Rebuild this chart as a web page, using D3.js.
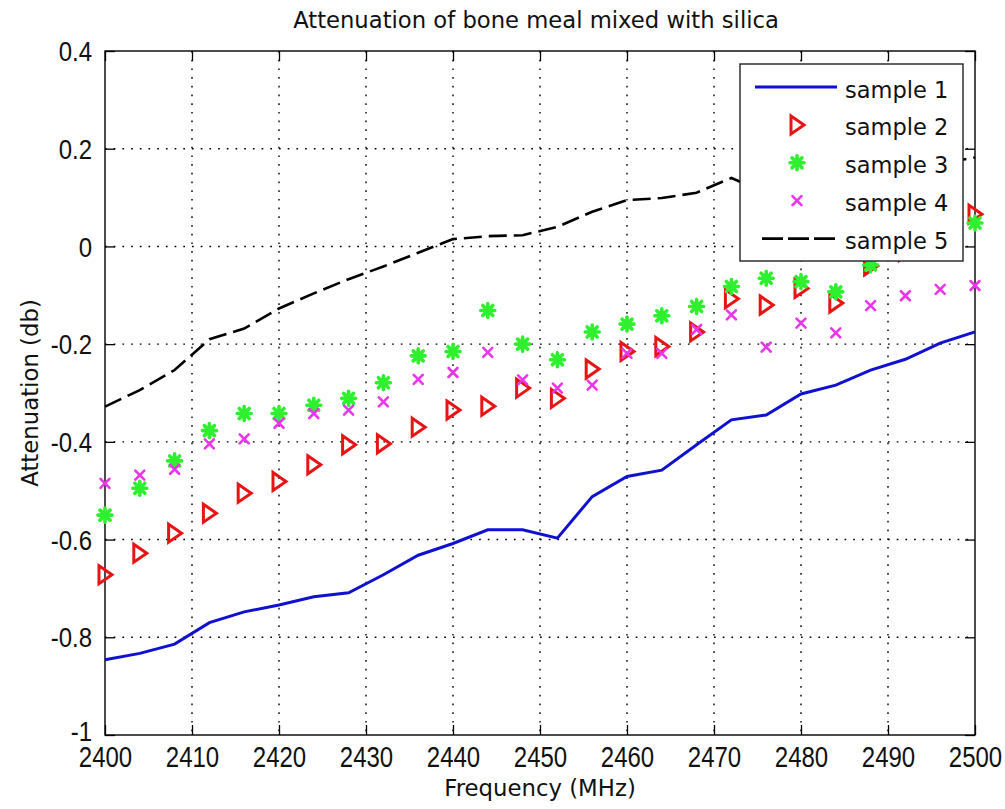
<!DOCTYPE html>
<html>
<head>
<meta charset="utf-8">
<script src="https://cdn.jsdelivr.net/npm/d3@7"></script>
<style>
  body { margin: 0; background: #fff; }
  svg { display: block; }
</style>
</head>
<body>
<svg></svg>
<script>
// frequencies (MHz), one reading every 4 MHz
var freq = [2400, 2404, 2408, 2412, 2416, 2420, 2424, 2428, 2432, 2436, 2440, 2444, 2448,
            2452, 2456, 2460, 2464, 2468, 2472, 2476, 2480, 2484, 2488, 2492, 2496, 2500];

// attenuation (db)
var sample1 = [-0.846, -0.833, -0.814, -0.770, -0.748, -0.734, -0.717, -0.709, -0.672, -0.632, -0.608, -0.580, -0.580,
               -0.597, -0.512, -0.471, -0.458, -0.406, -0.355, -0.345, -0.302, -0.284, -0.253, -0.231, -0.198, -0.175];
var sample2 = [-0.672, -0.628, -0.587, -0.546, -0.505, -0.481, -0.447, -0.406, -0.404, -0.370, -0.335, -0.327, -0.290,
               -0.311, -0.251, -0.215, -0.205, -0.175, -0.107, -0.120, -0.086, -0.116, -0.040, -0.010, 0.020, 0.066];
var sample3 = [-0.550, -0.495, -0.439, -0.377, -0.342, -0.342, -0.325, -0.311, -0.279, -0.224, -0.215, -0.131, -0.200,
               -0.232, -0.175, -0.159, -0.142, -0.123, -0.082, -0.065, -0.072, -0.093, -0.038, -0.010, 0.020, 0.048];
var sample4 = [-0.485, -0.468, -0.456, -0.404, -0.394, -0.362, -0.342, -0.335, -0.318, -0.272, -0.258, -0.217, -0.273,
               -0.290, -0.284, -0.219, -0.219, -0.170, -0.140, -0.206, -0.157, -0.177, -0.121, -0.101, -0.088, -0.080];
var sample5 = [-0.328, -0.294, -0.253, -0.190, -0.168, -0.127, -0.096, -0.067, -0.041, -0.013, 0.015, 0.021, 0.023,
               0.040, 0.071, 0.095, 0.099, 0.110, 0.140, 0.110, 0.125, 0.140, 0.150, 0.160, 0.170, 0.182];

var seriesNames = ["sample 1", "sample 2", "sample 3", "sample 4", "sample 5"];
var xTicks = [2400, 2410, 2420, 2430, 2440, 2450, 2460, 2470, 2480, 2490, 2500];
var yTicks = [0.4, 0.2, 0, -0.2, -0.4, -0.6, -0.8, -1];

var titleText = "Attenuation of bone meal mixed with silica";
var xLabel = "Frequency (MHz)";
var yLabel = "Attenuation (db)";

var W = 1005, H = 809;
var margin = {top: 51, right: 30, bottom: 74, left: 105},
    width = W - margin.left - margin.right,
    height = H - margin.top - margin.bottom;

var wordFont = "'DejaVu Sans', Verdana, sans-serif";
var digitFont = "'Liberation Sans', Arial, sans-serif";

var svg = d3.select("svg")
    .attr("width", W)
    .attr("height", H);

svg.append("rect").attr("width", W).attr("height", H).attr("fill", "#fff");

var g = svg.append("g")
    .attr("transform", "translate(" + margin.left + "," + margin.top + ")");

var xScale = d3.scaleLinear().domain([2400, 2500]).range([0, width]);
var yScale = d3.scaleLinear().domain([-1, 0.4]).range([height, 0]);

// dotted grid at the inner ticks
var gridColor = "#000";
g.append("g").selectAll("line")
  .data(xTicks.slice(1, -1))
  .enter().append("line")
    .attr("x1", function(d) { return xScale(d); })
    .attr("x2", function(d) { return xScale(d); })
    .attr("y1", 0).attr("y2", height)
    .attr("stroke", gridColor).attr("stroke-width", 1.4)
    .attr("stroke-dasharray", "1.7,7");
g.append("g").selectAll("line")
  .data(yTicks.slice(1, -1))
  .enter().append("line")
    .attr("y1", function(d) { return yScale(d); })
    .attr("y2", function(d) { return yScale(d); })
    .attr("x1", 0).attr("x2", width)
    .attr("stroke", gridColor).attr("stroke-width", 1.4)
    .attr("stroke-dasharray", "1.7,7");

var fmtY = function(d) { return String(+d.toFixed(1)); };

// axes, matlab style: inward ticks on all four sides
var xAxis_group = g.append("g")
    .attr("transform", "translate(0," + height + ")")
    .call(d3.axisBottom(xScale).tickValues(xTicks).tickSizeInner(-10).tickSizeOuter(0).tickFormat(d3.format("d")));
xAxis_group.selectAll("text")
    .attr("dy", null)
    .attr("y", 25.6)
    .attr("transform", "scale(1,1.25)");

var yAxis_group = g.append("g")
    .call(d3.axisLeft(yScale).tickValues(yTicks).tickSizeInner(-10).tickSizeOuter(0).tickFormat(fmtY));
yAxis_group.selectAll("text")
    .attr("dy", null)
    .attr("x", -13)
    .attr("y", function(d) { return d === -1 ? 5.2 : 8.6; })  // -1 sits just above the 2400 label
    .attr("transform", "scale(1,1.12)");

g.append("g").call(d3.axisTop(xScale).tickValues(xTicks).tickSizeInner(-10).tickSizeOuter(0).tickFormat(""));
g.append("g").attr("transform", "translate(" + width + ",0)")
    .call(d3.axisRight(yScale).tickValues(yTicks).tickSizeInner(-10).tickSizeOuter(0).tickFormat(""));

g.selectAll(".domain").remove();
g.selectAll(".tick line").attr("stroke", "#000").attr("stroke-width", 1.3);
g.selectAll(".tick text")
    .attr("fill", "#111")
    .style("font-family", digitFont)
    .style("font-size", "24px");

// plot box
g.append("rect")
    .attr("width", width).attr("height", height)
    .attr("fill", "none").attr("stroke", "#000").attr("stroke-width", 1.4);

// build row objects
function rows(vals) {
  return freq.map(function(f, i) { return {f: f, v: vals[i]}; });
}

var line = d3.line()
    .x(function(d) { return xScale(d.f); })
    .y(function(d) { return yScale(d.v); });

var blue = "#1010d0", red = "#e81414", green = "#2ef02e", magenta = "#ea35ea";

// marker shapes
function drawTriangle(sel) {
  sel.append("path").attr("d", "M-6,-9L7,0L-6,9Z")
    .attr("fill", "none").attr("stroke", red).attr("stroke-width", 3)
    .attr("stroke-linejoin", "miter");
}
function drawStar(sel) {
  sel.append("path").attr("d", "M-7,0L7,0M0,-7L0,7M-5,-5L5,5M-5,5L5,-5")
    .attr("stroke", green).attr("stroke-width", 3.6).attr("stroke-linecap", "round");
}
function drawCross(sel) {
  sel.append("path").attr("d", "M-4.5,-4.5L4.5,4.5M-4.5,4.5L4.5,-4.5")
    .attr("stroke", magenta).attr("stroke-width", 2.6).attr("stroke-linecap", "round");
}

function markers(vals, drawFn) {
  g.append("g").selectAll("g")
    .data(rows(vals))
    .enter().append("g")
      .attr("transform", function(d) { return "translate(" + xScale(d.f) + "," + yScale(d.v) + ")"; })
      .each(function() { drawFn(d3.select(this)); });
}

g.append("path").datum(rows(sample1))
    .attr("d", line)
    .attr("fill", "none").attr("stroke", blue).attr("stroke-width", 3);

markers(sample2, drawTriangle);
markers(sample3, drawStar);
markers(sample4, drawCross);

g.append("path").datum(rows(sample5))
    .attr("d", line)
    .attr("fill", "none").attr("stroke", "#000").attr("stroke-width", 2.6)
    .attr("stroke-dasharray", "18,7");

// legend
var legend = svg.append("g").attr("transform", "translate(740,64)");
legend.append("rect")
    .attr("width", 223).attr("height", 197)
    .attr("fill", "#fff").attr("stroke", "#222").attr("stroke-width", 1.4);

var rowY = function(i) { return 23 + i * 37.9; };
seriesNames.forEach(function(name, i) {
  var row = legend.append("g").attr("transform", "translate(0," + rowY(i) + ")");
  if (i === 0) {
    row.append("line").attr("x1", 15).attr("x2", 97).attr("stroke", blue).attr("stroke-width", 3);
  } else if (i === 4) {
    row.append("line").attr("x1", 22).attr("x2", 97).attr("stroke", "#000").attr("stroke-width", 2.6)
      .attr("stroke-dasharray", "21,5");
  } else {
    var m = row.append("g").attr("transform", "translate(57,0)");
    [drawTriangle, drawStar, drawCross][i - 1](m);
  }
  row.append("text")
    .attr("x", 105).attr("y", 10.5)
    .attr("fill", "#111")
    .style("font-family", wordFont)
    .style("font-size", "22.5px")
    .text(name);
});

// title and axis labels
svg.append("text")
    .attr("x", 536).attr("y", 28)
    .attr("text-anchor", "middle")
    .attr("fill", "#111")
    .style("font-family", wordFont)
    .style("font-size", "22.7px")
    .text(titleText);

svg.append("text")
    .attr("x", margin.left + width / 2).attr("y", 796)
    .attr("text-anchor", "middle")
    .attr("fill", "#111")
    .style("font-family", wordFont)
    .style("font-size", "22.8px")
    .text(xLabel);

svg.append("text")
    .attr("transform", "translate(38," + (margin.top + height / 2) + ")rotate(-90)")
    .attr("text-anchor", "middle")
    .attr("fill", "#111")
    .style("font-family", wordFont)
    .style("font-size", "22.8px")
    .text(yLabel);
</script>
</body>
</html>
